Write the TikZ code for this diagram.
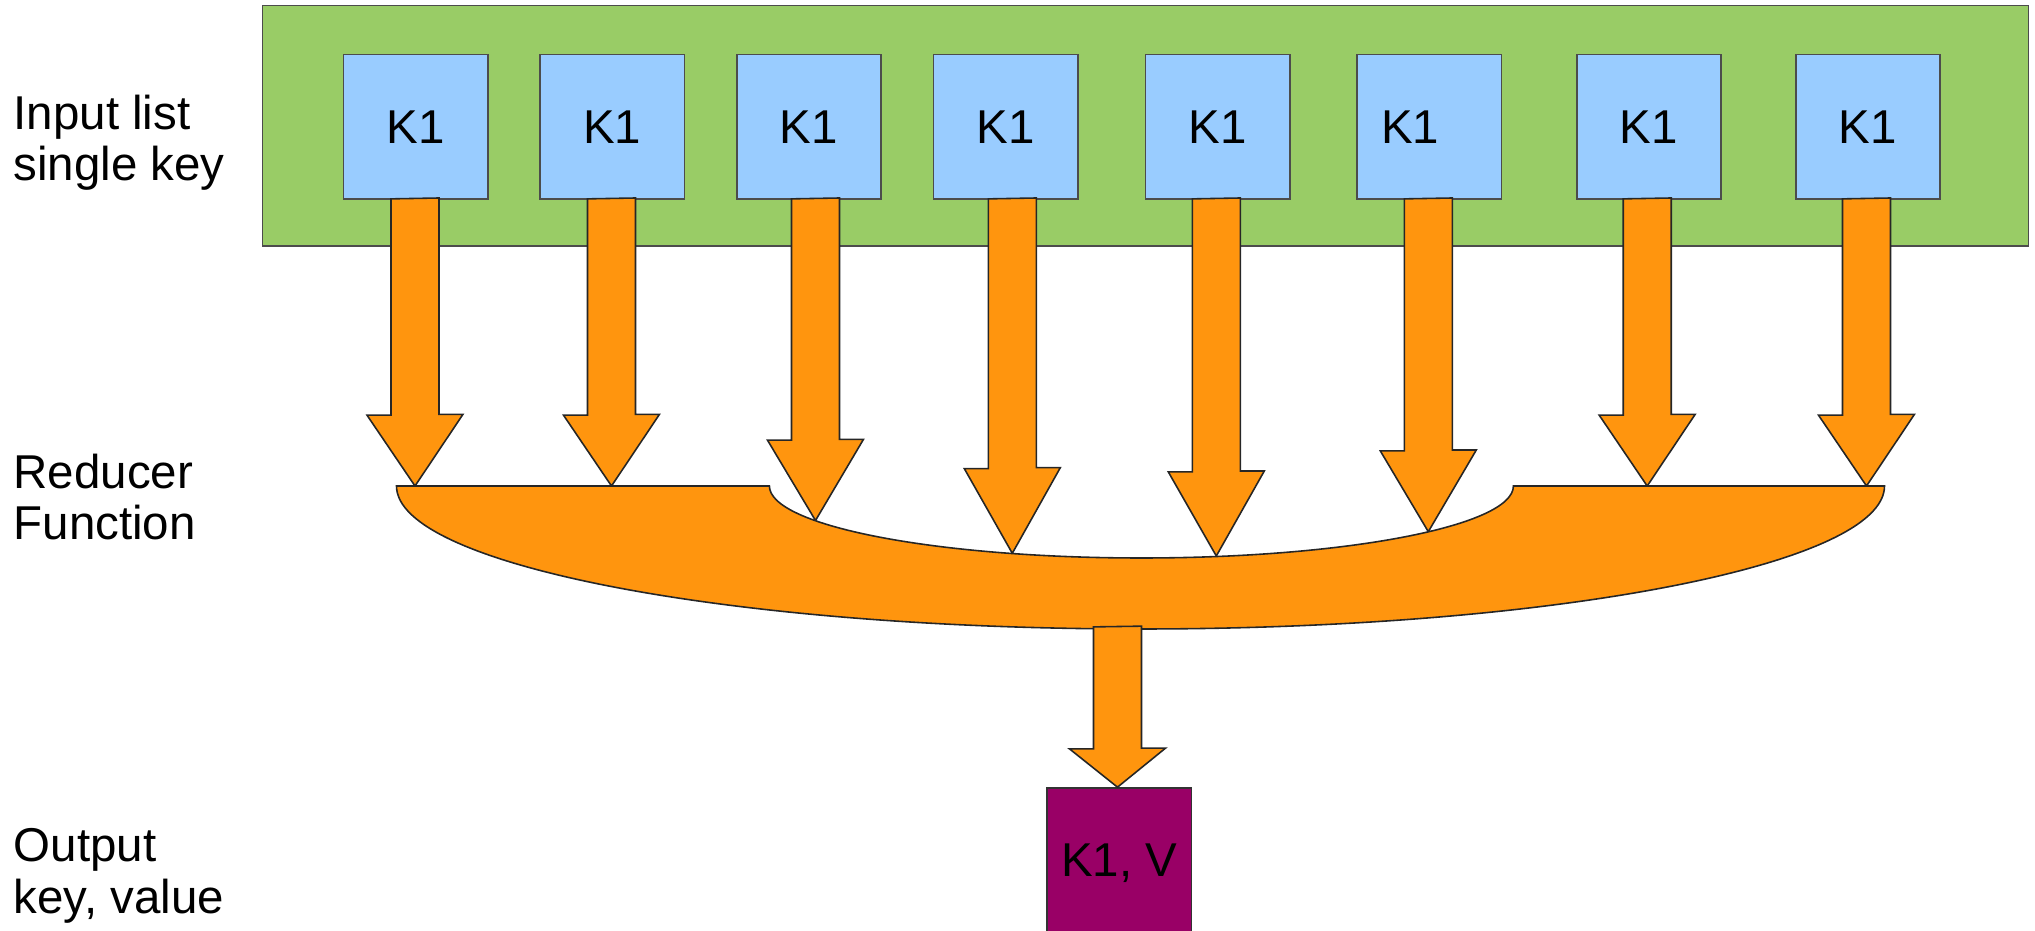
\documentclass[tikz,border=0pt]{standalone}
\usepackage{fontspec}
\setmainfont{Liberation Sans}
\definecolor{listgreen}{HTML}{99CC66}
\definecolor{keyblue}{HTML}{99CCFF}
\definecolor{floworange}{HTML}{FF950E}
\definecolor{outpurple}{HTML}{990066}
\begin{document}
\begin{tikzpicture}[x=0.01cm, y=-0.01cm, font=\fontsize{13.5}{14.6}\selectfont,
    keybox/.style={draw=black!70, fill=keyblue, line width=0.45pt, minimum width=1.44cm, minimum height=1.445cm, inner sep=0pt},
    flowarrow/.style={draw=black!85, fill=floworange, line width=0.45pt},
    lbl/.style={anchor=base west, align=left, inner sep=0pt}]
    \useasboundingbox (0,0) rectangle (2035,931);

    % Input list with the keys
    \draw[draw=black!70, fill=listgreen, line width=0.45pt] (262.7,5.7) rectangle (2028.5,246);
    \foreach \i/\x/\s in {1/415.7/0pt,2/612.3/0pt,3/808.8/0pt,4/1005.7/0pt,5/1217.7/0pt,6/1429.3/0.38cm,7/1648.8/0pt,8/1868/0pt}
        \node[keybox] (k\i) at (\x,126.8) {K1\hspace*{\s}};

    % Block arrows from each key down to the reducer (x, head top, tip)
    \foreach \i/\c/\h/\t in {1/415/414.3/486,2/611.5/414.3/486,3/815.5/439.3/520.5,4/1012.3/467.7/553.3,5/1216.3/471/556,6/1428.3/450/531.7,7/1647.2/414.3/486,8/1866.5/414.3/486}
    {
        \coordinate (t\i) at (\c,\t);
        \draw[flowarrow] (k\i.south -| t\i) ++(-24,-1) -- ++(0,\h-198) -- ++(-24,0) -- (t\i) -- ++(48,\h-\t) -- ++(-24,0) -- ++(0,198-\h) -- cycle;
    }

    % Reducer function
    \draw[flowarrow] (396.5,486) -- (769.4,486) arc[start angle=180, end angle=0, x radius=372, y radius=72]
        -- (1884.5,486) arc[start angle=0, end angle=180, x radius=744, y radius=143] -- cycle;
    \coordinate (rb) at (1117.5,628.9);

    % Output
    \node[draw=black!80, fill=outpurple, line width=0.45pt, minimum width=1.443cm, minimum height=1.44cm, inner sep=0pt, text depth=0pt] (out) at (1119.2,860) {K1, V};
    \draw[flowarrow] (rb) ++(-24,-2) -- ++(0,122) -- ++(-24,0) -- (out.north -| rb) -- ++(48,-39) -- ++(-24,0) -- ++(0,-122) -- cycle;

    % Row labels
    \node[lbl] (inlbl) at (13,180.7) {Input list\\single key};
    \node[lbl] (redlbl) at (13,540) {Reducer\\Function};
    \node[lbl] (outlbl) at (13,913.3) {Output\\key, value};
\end{tikzpicture}
\end{document}
